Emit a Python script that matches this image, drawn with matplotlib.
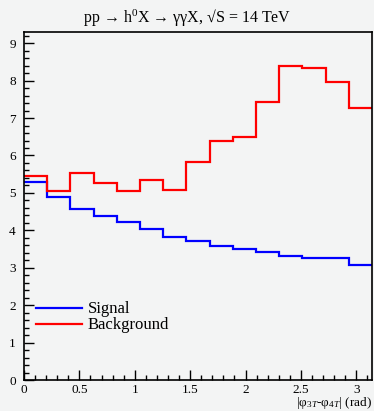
import numpy as np
import matplotlib
matplotlib.use("Agg")
import matplotlib.pyplot as plt
from matplotlib.ticker import MultipleLocator

plt.rcParams['font.family'] = ['Liberation Serif', 'DejaVu Serif']
plt.rcParams['mathtext.fontset'] = 'custom'
plt.rcParams['mathtext.rm'] = 'Liberation Serif'
plt.rcParams['mathtext.it'] = 'Liberation Serif:italic'

title = r"pp → h$^{0}$X → γγX, √S = 14 TeV"
xlabel = r"|φ$_{3T}$-φ$_{4T}$| (rad)"
series_names = ["Signal", "Background"]
n_bins = 15
signal = [5.29, 4.90, 4.57, 4.38, 4.21, 4.03, 3.83, 3.72, 3.59, 3.50, 3.42, 3.32, 3.26, 3.25, 3.07]
background = [5.44, 5.04, 5.53, 5.26, 5.05, 5.35, 5.08, 5.82, 6.40, 6.49, 7.42, 8.40, 8.34, 7.97, 7.27]

bg = '#f3f4f4'
fig = plt.figure(figsize=(3.74, 4.11), dpi=100, facecolor=bg)
ax = fig.add_axes([24/374, 31/411, 348/374, 348/411])
ax.set_facecolor(bg)

edges = np.linspace(0, np.pi, n_bins + 1)
ax.stairs(signal, edges, color='#0000ff', lw=1.6, label=series_names[0], baseline=None)
ax.stairs(background, edges, color='#ff0000', lw=1.6, label=series_names[1], baseline=None)

ax.set_xlim(0, np.pi)
ax.set_ylim(0, 9.3)
ax.xaxis.set_major_locator(MultipleLocator(0.5))
ax.xaxis.set_minor_locator(MultipleLocator(0.1))
ax.yaxis.set_major_locator(MultipleLocator(1))
ax.yaxis.set_minor_locator(MultipleLocator(0.2))
ax.tick_params(which='both', direction='in', labelsize=9.5, width=1)
ax.tick_params(which='major', length=7)
ax.tick_params(which='minor', length=3.5)
ax.tick_params(axis='x', pad=3)
ax.tick_params(axis='y', pad=6)
ax.set_xticks([0, 0.5, 1, 1.5, 2, 2.5, 3])
ax.set_xticklabels(['0', '0.5', '1', '1.5', '2', '2.5', '3'])
for s in ax.spines.values():
    s.set_linewidth(1.2)

fig.text(0.5, 1 - 18/411, title, ha='center', va='center', fontsize=11.5)
fig.text(372/374, 1 - 403/411, xlabel, ha='right', va='center', fontsize=9.5)

leg = ax.legend(loc='lower left', bbox_to_anchor=(0.005, 0.105), frameon=False,
                fontsize=12, handlelength=2.8, handletextpad=0.3,
                labelspacing=0.0, borderaxespad=0.2)

fig.savefig('out.png', dpi=100, facecolor=bg)
